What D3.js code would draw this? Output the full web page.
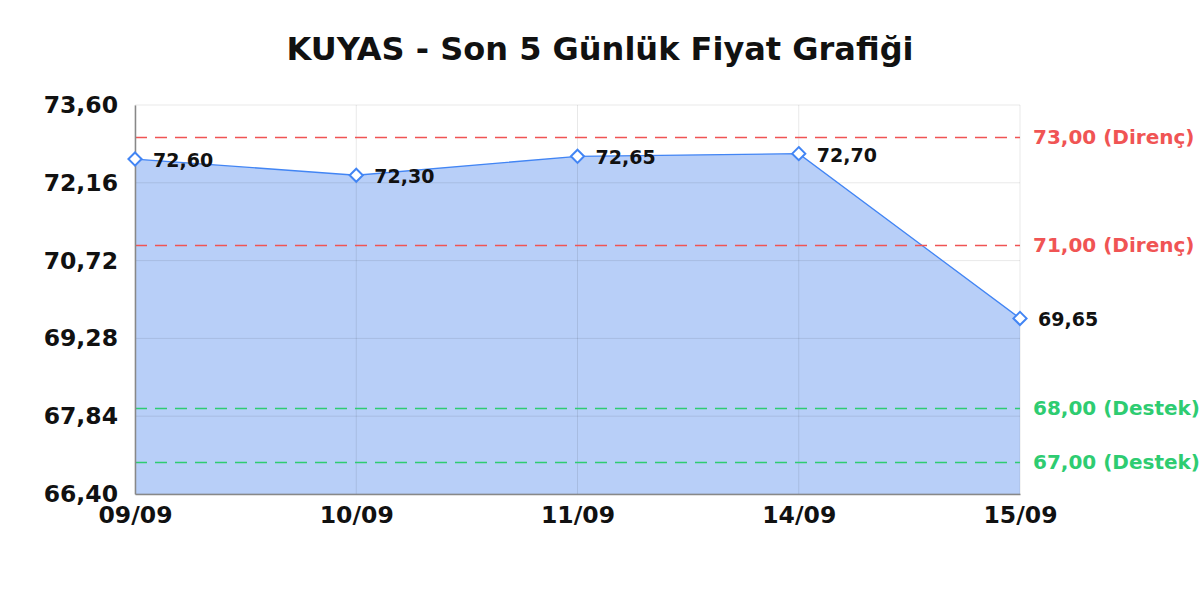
<!DOCTYPE html>
<html>
<head>
<meta charset="utf-8">
<script src="https://cdn.jsdelivr.net/npm/d3@7"></script>
<style>
  body { margin: 0; background: #fff; }
  svg text { font-family: "DejaVu Sans", sans-serif; font-weight: bold; }
</style>
</head>
<body>
<div id="chart"></div>
<script>
const title = "KUYAS - Son 5 Günlük Fiyat Grafiği";
const dates = ["09/09", "10/09", "11/09", "14/09", "15/09"];
const prices = [72.60, 72.30, 72.65, 72.70, 69.65];
const yTicks = [66.40, 67.84, 69.28, 70.72, 72.16, 73.60];
const resistance = [73.00, 71.00];
const support = [68.00, 67.00];

(function() {
    const width = 1200;
    const height = 600;
    const margin = {top: 105, right: 180, bottom: 106, left: 135};
    const fmt = v => v.toFixed(2).replace(".", ",");

    const x = d3.scalePoint()
        .domain(dates)
        .range([margin.left, width - margin.right]);

    const y = d3.scaleLinear()
        .domain([66.40, 73.60])
        .range([height - margin.bottom, margin.top]);

    const svg = d3.select("#chart").append("svg")
        .attr("width", width)
        .attr("height", height);

    svg.append("text")
        .attr("x", 600)
        .attr("y", 60)
        .attr("text-anchor", "middle")
        .attr("font-size", 32)
        .attr("fill", "#111")
        .text(title);

    // area
    const pts = dates.map((d, i) => ({d, v: prices[i]}));
    const area = d3.area()
        .x(p => x(p.d))
        .y0(y(66.40))
        .y1(p => y(p.v));
    svg.append("path")
        .datum(pts)
        .attr("d", area)
        .attr("fill", "#b8cff8");

    // grid (translucent so it greys on white, blues on the fill)
    svg.append("g")
        .selectAll("line")
        .data(yTicks)
        .join("line")
        .attr("x1", margin.left).attr("x2", width - margin.right)
        .attr("y1", d => y(d)).attr("y2", d => y(d))
        .attr("stroke", "#000").attr("stroke-opacity", 0.09);

    svg.append("g")
        .selectAll("line")
        .data(dates)
        .join("line")
        .attr("x1", d => x(d)).attr("x2", d => x(d))
        .attr("y1", margin.top).attr("y2", height - margin.bottom)
        .attr("stroke", "#000").attr("stroke-opacity", 0.09);

    const line = d3.line()
        .x(p => x(p.d))
        .y(p => y(p.v));
    svg.append("path")
        .datum(pts)
        .attr("d", line)
        .attr("fill", "none")
        .attr("stroke", "#4285f4")
        .attr("stroke-width", 1.3);

    // reference lines
    const refs = resistance.map(v => ({v, label: fmt(v) + " (Direnç)", color: "#f05454"}))
        .concat(support.map(v => ({v, label: fmt(v) + " (Destek)", color: "#2ecc71"})));

    svg.append("g")
        .selectAll("line")
        .data(refs)
        .join("line")
        .attr("x1", margin.left).attr("x2", width - margin.right)
        .attr("y1", d => Math.round(y(d.v)) + 0.5).attr("y2", d => Math.round(y(d.v)) + 0.5)
        .attr("stroke", d => d.color)
        .attr("stroke-width", 1.5)
        .attr("stroke-dasharray", "12,8");

    svg.append("g")
        .selectAll("text")
        .data(refs)
        .join("text")
        .attr("x", width - margin.right + 13)
        .attr("y", d => y(d.v) + 7)
        .attr("font-size", 20)
        .attr("fill", d => d.color)
        .text(d => d.label);

    // axes
    const yAxis = svg.append("g")
        .attr("transform", `translate(${margin.left},0)`)
        .call(d3.axisLeft(y).tickValues(yTicks).tickFormat(fmt).tickSize(0).tickPadding(17));
    yAxis.select(".domain").attr("stroke", "#888").attr("stroke-width", 1.5);
    yAxis.selectAll("text").attr("font-size", 23.5).attr("fill", "#111")
        .attr("font-family", "DejaVu Sans").attr("font-weight", "bold");

    const xAxis = svg.append("g")
        .attr("transform", `translate(0,${height - margin.bottom})`)
        .call(d3.axisBottom(x).tickSize(0).tickPadding(12));
    xAxis.select(".domain").attr("stroke", "#888").attr("stroke-width", 1.5);
    xAxis.selectAll("text").attr("font-size", 23.5).attr("fill", "#111")
        .attr("font-family", "DejaVu Sans").attr("font-weight", "bold");

    // markers
    const diamond = d3.symbol().type(d3.symbolDiamond2).size(110);
    svg.append("g")
        .selectAll("path")
        .data(pts)
        .join("path")
        .attr("transform", p => `translate(${x(p.d)},${y(p.v)})`)
        .attr("d", diamond)
        .attr("fill", "#fff")
        .attr("stroke", "#4285f4")
        .attr("stroke-width", 2);

    svg.append("g")
        .selectAll("text")
        .data(pts)
        .join("text")
        .attr("x", p => x(p.d) + 18)
        .attr("y", p => y(p.v) + 8)
        .attr("font-size", 19)
        .attr("fill", "#111")
        .text(p => fmt(p.v));
}());
</script>
</body>
</html>
